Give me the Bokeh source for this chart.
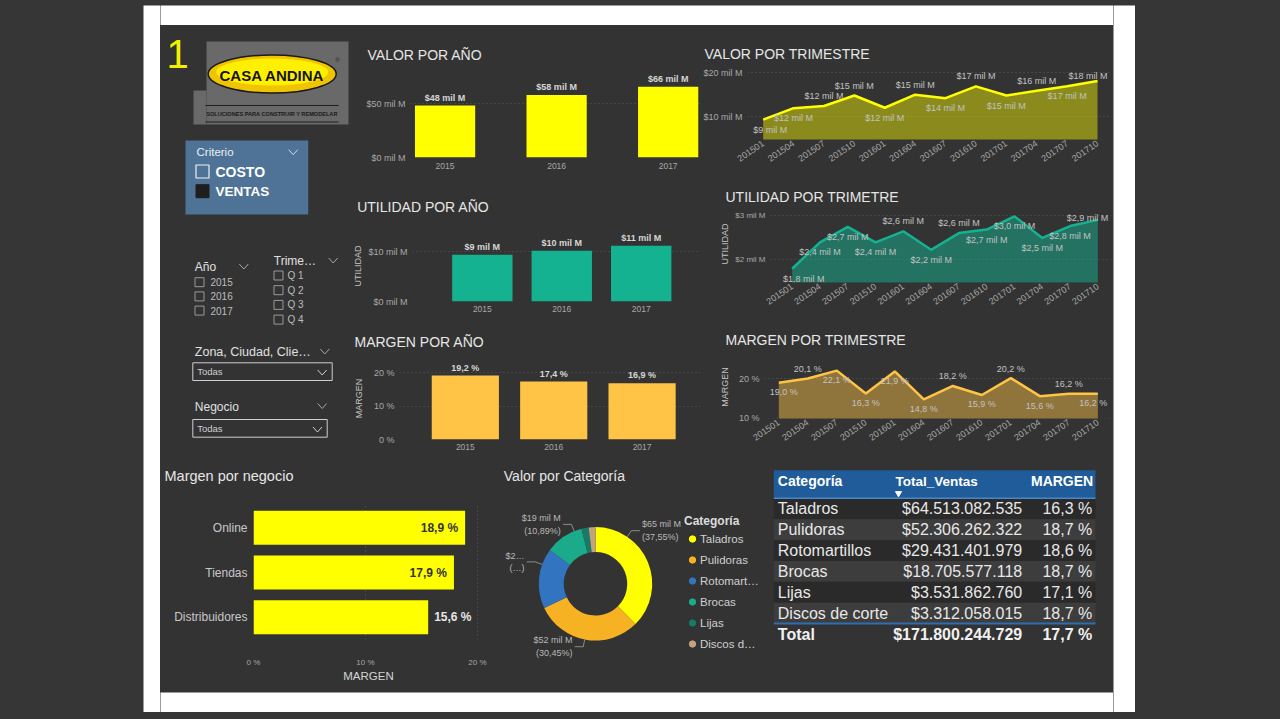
import math
import numpy as np
from bokeh.plotting import figure
from bokeh.models import (Range1d, FactorRange, FixedTicker, PrintfTickFormatter,
                          ColumnDataSource, Legend, LegendItem)
from bokeh.layouts import row, column
from bokeh.core.properties import value
from bokeh.embed import file_html
from bokeh.resources import INLINE

# ---------------- data ----------------
years = ["2015", "2016", "2017"]
valor_anio = [48.2, 57.9, 65.7]          # $ mil M
utilidad_anio = [9.4, 10.2, 11.2]        # $ mil M
margen_anio = [19.2, 17.4, 16.9]         # %

quarters = ["201501", "201504", "201507", "201510", "201601", "201604",
            "201607", "201610", "201701", "201704", "201707", "201710"]
valor_tri = [9.3, 11.9, 12.4, 14.8, 12.0, 15.0, 14.2, 16.9, 14.8, 15.9, 16.9, 18.1]
utilidad_tri = [1.79, 2.39, 2.74, 2.39, 2.64, 2.22, 2.60, 2.68, 2.98, 2.49, 2.76, 2.90]
margen_tri = [19.0, 20.1, 22.1, 16.3, 21.9, 14.8, 18.2, 15.9, 20.2, 15.6, 16.2, 16.2]

negocios = ["Online", "Tiendas", "Distribuidores"]
margen_negocio = [18.9, 17.9, 15.6]

categorias = ["Taladros", "Pulidoras", "Rotomartillos", "Brocas", "Lijas", "Discos de corte"]
categorias_leyenda = ["Taladros", "Pulidoras", "Rotomart…", "Brocas", "Lijas", "Discos d…"]
total_ventas = [64513082535, 52306262322, 29431401979, 18705577118, 3531862760, 3312058015]
margen_cat = [16.3, 18.7, 18.6, 18.7, 17.1, 18.7]
margen_total = 17.7

trimestres_q = ["Q 1", "Q 2", "Q 3", "Q 4"]

# ---------------- style ----------------
PANEL = "#333333"
OUTER = "#363636"
WHITE = "#ffffff"
FONT = "Liberation Sans"
TITLE_C = "#e6e6e6"
TICK_C = "#a8a8a8"
DLABEL_C = "#d6d6d6"
GRID_C = "#5a5a5a"
YELLOW = "#ffff00"
TEAL = "#14b291"
GOLD = "#ffc445"
CAT_COLORS = ["#ffff00", "#f6b223", "#3274c0", "#1bab8a", "#167a66", "#c4a27e"]


def mkfig(**kw):
    p = figure(toolbar_location=None, output_backend="svg", **kw)
    try:
        p.frame_align = False
    except Exception:
        pass
    return p


def block(w, h, color):
    p = mkfig(width=w, height=h, x_axis_location=None, y_axis_location=None, min_border=0,
              background_fill_color=color, border_fill_color=color, outline_line_color=None)
    p.grid.visible = False
    return p


def deco(w, h, xr, yr, color=PANEL):
    p = mkfig(width=w, height=h, x_range=Range1d(*xr), y_range=Range1d(*yr),
              x_axis_location=None, y_axis_location=None, min_border=0,
              background_fill_color=color, border_fill_color=color, outline_line_color=None)
    p.grid.visible = False
    return p


def txt(p, x, y, s, size, color, align="left", baseline="middle", style="normal", font=FONT):
    p.text(x=[x], y=[y], text=[s], text_font=value(font), text_font_size=size,
           text_color=color, text_align=align, text_baseline=baseline, text_font_style=style)


def strip(w, h, x0, y0, s, tx, ty, size="14px"):
    p = deco(w, h, (x0, x0 + w), (y0 + h, y0))
    txt(p, tx, ty, s, size, TITLE_C)
    return p


def chevron(p, cx, cy, color, w=4.5, h=2.5):
    p.line(x=[cx - w, cx, cx + w], y=[cy - h, cy + h, cy - h], line_color=color, line_width=1)


def chart(w, h, xr, yr, mbl, mbr, mbt, mbb):
    p = mkfig(width=w, height=h, x_range=xr, y_range=yr,
              min_border_left=mbl, min_border_right=mbr,
              min_border_top=mbt, min_border_bottom=mbb,
              background_fill_color=PANEL, border_fill_color=PANEL, outline_line_color=None)
    for ax in (p.xaxis[0], p.yaxis[0]):
        ax.axis_line_color = None
        ax.major_tick_line_color = None
        ax.minor_tick_line_color = None
        ax.major_tick_out = 0
        ax.major_tick_in = 0
        ax.minor_tick_out = 0
        ax.minor_tick_in = 0
        ax.major_label_text_font = FONT
        ax.major_label_text_color = TICK_C
        ax.major_label_text_font_size = "9px"
        ax.axis_label_text_font = FONT
        ax.axis_label_text_font_style = "normal"
        ax.axis_label_text_color = "#c4c4c4"
        ax.axis_label_text_font_size = "9px"
    p.xgrid.visible = False
    p.ygrid.grid_line_color = GRID_C
    p.ygrid.grid_line_dash = "1 3"
    return p


def fmt_pct(v):
    return f"{v:.1f} %".replace(".", ",")


# ---------------- year bar charts ----------------
def year_chart(h, vals, color, xr, yr, mbl, mbt, mbb, yticks, yfmt, labels, bw,
               xstand, ylabel=None, ylab_stand=2):
    p = chart(350, h, xr, yr, mbl, 0, mbt, mbb)
    xs = list(range(len(years)))
    p.vbar(x=xs, top=vals, width=bw, fill_color=color, line_color=None)
    p.text(x=xs, y=vals, text=labels, text_align="center", text_baseline="bottom", y_offset=-3,
           text_font=value(FONT), text_font_style="bold", text_font_size="9px", text_color=DLABEL_C)
    p.xaxis.ticker = FixedTicker(ticks=xs)
    p.xaxis.major_label_overrides = {i: s for i, s in enumerate(years)}
    p.xaxis.major_label_text_font_size = "8.5px"
    p.xaxis.major_label_standoff = xstand
    yt = FixedTicker(ticks=yticks)
    p.yaxis.ticker = yt
    p.ygrid.ticker = yt
    p.yaxis.formatter = PrintfTickFormatter(format=yfmt)
    p.yaxis.major_label_standoff = 5
    if ylabel:
        p.yaxis.axis_label = ylabel
        p.yaxis.axis_label_standoff = ylab_stand
    return p


t1 = strip(350, 37, 350, 25, "VALOR POR AÑO", 367, 54)
p1 = year_chart(128, valor_anio, YELLOW, Range1d(-0.31, 2.29), Range1d(0, 80.7), 60, 8, 33,
                [0, 50], "$%d mil M", [f"${round(v)} mil M" for v in valor_anio], 0.54, 5)
t2 = strip(350, 26, 350, 190, "UTILIDAD POR AÑO", 356.7, 206)
p2 = year_chart(109, utilidad_anio, TEAL, Range1d(-0.879, 2.746), Range1d(0, 14.29), 60, 14, 24,
                [0, 10], "$%d mil M", [f"${round(v)} mil M" for v in utilidad_anio], 0.76, 4,
                "UTILIDAD", 2)
t3 = strip(350, 26, 350, 325, "MARGEN POR AÑO", 354, 341.7)
p3 = year_chart(109, margen_anio, GOLD, Range1d(-0.745, 2.661), Range1d(0, 24.62), 46, 6, 21,
                [0, 10, 20], "%d %%", [fmt_pct(v) for v in margen_anio], 0.76, 4, "MARGEN", 7)


# ---------------- quarter area charts ----------------
def tri_chart(h, vals, color, alpha, xr, yr, mbl, mbt, mbb, yticks, yfmt, labels,
              pos, off, xshift, ylabel=None, ylab_stand=6, tick_size="9px"):
    p = chart(413, h, xr, yr, mbl, 2, mbt, mbb)
    xs = list(range(len(quarters)))
    p.varea(x=xs, y1=0, y2=vals, fill_color=color, fill_alpha=alpha)
    p.line(x=xs, y=vals, line_color=color, line_width=2.5)
    src = ColumnDataSource(dict(x=xs, y=vals, t=labels,
                                xo=xshift, yo=[-pp * off for pp in pos]))
    p.text(x="x", y="y", text="t", x_offset="xo", y_offset="yo", source=src,
           text_align="center", text_baseline="middle", text_font=value(FONT),
           text_font_size="9px", text_color="#c2c2c2")
    p.xaxis.ticker = FixedTicker(ticks=xs)
    p.xaxis.major_label_overrides = {i: s for i, s in enumerate(quarters)}
    p.xaxis.major_label_orientation = 0.6
    p.xaxis.major_label_standoff = 3
    yt = FixedTicker(ticks=yticks)
    p.yaxis.ticker = yt
    p.ygrid.ticker = yt
    p.yaxis.formatter = PrintfTickFormatter(format=yfmt)
    p.yaxis.major_label_standoff = 5
    p.yaxis.major_label_text_font_size = tick_size
    if ylabel:
        p.yaxis.axis_label = ylabel
        p.yaxis.axis_label_standoff = ylab_stand
    return p


def shift(first, last):
    s = [0.0] * len(quarters)
    s[0] = first
    s[-1] = last
    return s


t4 = strip(413, 36, 700, 25, "VALOR POR TRIMESTRE", 704, 53.3)
p4 = tri_chart(124, valor_tri, YELLOW, 0.43, Range1d(-0.516, 11.46), Range1d(4.74, 21.67),
               47, 4, 46, [10, 20], "$%d mil M", [f"${round(v)} mil M" for v in valor_tri],
               [-1, -1, 1, 1, -1, 1, -1, 1, -1, 1, -1, 0.5], 10, shift(7, -9.5))
t5 = strip(413, 20, 700, 185, "UTILIDAD POR TRIMETRE", 725, 196.7)
p5 = tri_chart(120, utilidad_tri, TEAL, 0.5, Range1d(-0.78, 11.49), Range1d(1.477, 3.227),
               70, 0, 43, [2, 3], "$%d mil M",
               [f"${v:.1f} mil M".replace(".", ",") for v in utilidad_tri],
               [-1, -1, -1, -1, 1, -1, 1, -1, -1, -1, -1, 0.15], 10, shift(11.5, -10.5),
               "UTILIDAD", 2, "8px")
t6 = strip(413, 24, 700, 325, "MARGEN POR TRIMESTRE", 725, 339)
p6 = tri_chart(111, margen_tri, GOLD, 0.45, Range1d(-0.493, 11.47), Range1d(9.92, 25.95),
               64, 6, 42, [10, 20], "%d %%", [fmt_pct(v) for v in margen_tri],
               [-1, 1, -1, -1, -1, -1, 1, -1, 1, -1, 1, -1], 9.5, shift(5, -4.6),
               "MARGEN", 6)

# ---------------- margen por negocio ----------------
tN = strip(335, 30, 160, 460, "Margen por negocio", 164, 475.7, "14.5px")
pN = chart(335, 202, Range1d(0, 20.54), FactorRange(factors=negocios[::-1]), 93, 12, 15, 53)
pN.hbar(y=negocios, right=margen_negocio, left=0, height=0.76, fill_color=YELLOW, line_color=None)
inside = [v >= 17 for v in margen_negocio]
nsrc = ColumnDataSource(dict(
    x=margen_negocio, y=negocios, t=[fmt_pct(v) for v in margen_negocio],
    al=["right" if i else "left" for i in inside],
    xo=[-7 if i else 6 for i in inside],
    c=["#333333" if i else "#e6e6e6" for i in inside]))
pN.text(x="x", y="y", text="t", text_align="al", x_offset="xo", text_color="c", source=nsrc,
        text_baseline="middle", text_font=value(FONT), text_font_style="bold", text_font_size="12px")
xt = FixedTicker(ticks=[0, 10, 20])
pN.xaxis.ticker = xt
pN.xaxis.formatter = PrintfTickFormatter(format="%d %%")
pN.xaxis.major_label_text_font_size = "8px"
pN.xaxis.major_label_standoff = 18
pN.xaxis.axis_label = "MARGEN"
pN.xaxis.axis_label_text_font_size = "11.5px"
pN.xaxis.axis_label_text_color = "#d4d4d4"
pN.xaxis.axis_label_standoff = 0
pN.yaxis.major_label_text_font_size = "12px"
pN.yaxis.major_label_text_color = "#c8c8c8"
pN.yaxis.major_label_standoff = 6
pN.ygrid.visible = False
pN.xgrid.visible = True
pN.xgrid.ticker = xt
pN.xgrid.grid_line_color = GRID_C
pN.xgrid.grid_line_dash = "1 3"

# ---------------- donut ----------------
R_PX = 56.7
tD = strip(275, 30, 495, 460, "Valor por Categoría", 503.3, 475.7, "14px")
pD = deco(275, 202, (-100 / R_PX, 175 / R_PX), (-(692 - 583.3) / R_PX, (583.3 - 490) / R_PX))
vals = np.array(total_ventas, dtype=float)
frac = vals / vals.sum()
cum = np.cumsum(frac)
start = np.pi / 2 - 2 * np.pi * (cum - frac)
end = np.pi / 2 - 2 * np.pi * cum
pD.annular_wedge(x=0, y=0, inner_radius=0.56, outer_radius=1.0, start_angle=start, end_angle=end,
                 direction="clock", fill_color=CAT_COLORS, line_color=None)

lab_angles = [56, -101, 160, 112]
lab_trunc = [False, False, True, False]
lx, ly, lt, la, lxs, lys = [], [], [], [], [], []
for i, a in enumerate(lab_angles):
    t = math.radians(a)
    c, s = math.cos(t), math.sin(t)
    x1, y1 = 1.13 * c, 1.13 * s
    sg = 1 if c >= 0 else -1
    x2 = x1 + sg * 0.15
    lxs.append([1.0 * c, x1, x2])
    lys.append([1.0 * s, y1, y1])
    l1 = f"${round(total_ventas[i] / 1e9)} mil M"
    l2 = f"({frac[i] * 100:.2f}%)".replace(".", ",")
    if lab_trunc[i]:
        l1 = l1[:2] + "…"
        l2 = "(…)"
    lt.append(l1 + "\n" + l2)
    lx.append(x2 + sg * 0.04)
    ly.append(y1)
    la.append("left" if sg > 0 else "right")
pD.multi_line(xs=lxs, ys=lys, line_color="#8c8c8c", line_width=1)
dsrc = ColumnDataSource(dict(x=lx, y=ly, t=lt, al=la))
pD.text(x="x", y="y", text="t", text_align="al", source=dsrc, text_baseline="middle",
        text_font=value(FONT), text_font_size="9px", text_color="#b8b8b8", text_line_height=1.25)

leg_src = ColumnDataSource(dict(x=np.full(len(categorias), np.nan), y=np.full(len(categorias), np.nan),
                                color=CAT_COLORS))
r_leg = pD.scatter(x="x", y="y", color="color", size=7, source=leg_src)
legend = Legend(items=[LegendItem(label=categorias_leyenda[i], renderers=[r_leg], index=i)
                       for i in range(len(categorias))],
                location=(189, 40), title="Categoría")
legend.title_text_font = FONT
legend.title_text_font_style = "bold"
legend.title_text_font_size = "12px"
legend.title_text_color = "#dcdcdc"
legend.title_standoff = 2
legend.label_text_font = FONT
legend.label_text_font_size = "11.5px"
legend.label_text_color = "#d0d0d0"
legend.glyph_width = 16
legend.glyph_height = 17
legend.label_height = 17
legend.spacing = 4
legend.label_standoff = 0
legend.padding = 0
legend.margin = 0
legend.background_fill_alpha = 0
legend.border_line_alpha = 0
pD.add_layout(legend)

# ---------------- table ----------------
pT = deco(343, 232, (770, 1113), (8.80, -2.314))
n = len(categorias)
rows = list(range(n))
pT.quad(left=773.3, right=1095, top=[i - 0.5 for i in rows], bottom=[i + 0.5 for i in rows],
        fill_color=["#2a2a2a" if i % 2 == 0 else "#3d3d3d" for i in rows], line_color=None)
pT.quad(left=[773.3], right=[1095], top=[-1.85], bottom=[-0.5], fill_color="#1f5c99", line_color=None)
pT.line(x=[773.3, 1095], y=[-0.5, -0.5], line_color="#4a86c8", line_width=1.5)
pT.line(x=[773.3, 1095], y=[5.5, 5.5], line_color="#2e6db0", line_width=2)
txt(pT, 777.3, -1.32, "Categoría", "14px", "#ffffff", style="bold")
txt(pT, 895, -1.32, "Total_Ventas", "13.5px", "#ffffff", style="bold")
txt(pT, 1092.7, -1.32, "MARGEN", "14px", "#ffffff", align="right", style="bold")
pT.scatter(x=[898], y=[-0.74], marker="inverted_triangle", size=6, color="#ffffff")
ventas_txt = ["$" + f"{v:,}".replace(",", ".") for v in total_ventas]
tsrc = ColumnDataSource(dict(y=rows, c=categorias, v=ventas_txt, m=[fmt_pct(v) for v in margen_cat]))
common = dict(source=tsrc, text_baseline="middle", text_font=value(FONT), text_font_size="16px",
              text_color="#e8e8e8")
pT.text(x=777.3, y="y", text="c", text_align="left", **common)
pT.text(x=1021.7, y="y", text="v", text_align="right", **common)
pT.text(x=1091.7, y="y", text="m", text_align="right", **common)
total_txt = "$" + f"{sum(total_ventas):,}".replace(",", ".")
txt(pT, 777.3, 6.0, "Total", "16px", "#f0f0f0", style="bold")
txt(pT, 1021.7, 6.0, total_txt, "16px", "#f0f0f0", align="right", style="bold")
txt(pT, 1091.7, 6.0, fmt_pct(margen_total), "16px", "#f0f0f0", align="right", style="bold")

# ---------------- left column: logo + slicers ----------------
pL = deco(190, 435, (160, 350), (460, 25))
txt(pL, 166, 53, "1", "40px", "#f0f000")
pL.quad(left=[206, 193], right=[348, 206], top=[41, 90], bottom=[124, 124],
        fill_color="#696969", line_color=None)
pL.ellipse(x=[271.7], y=[73.5], width=[128], height=[38], fill_color="#f0c400",
           line_color="#1a1a1a", line_width=1.5)
pL.ellipse(x=[271.7], y=[71.5], width=[112], height=[27], fill_color="#fff000", line_color=None)
txt(pL, 271.5, 74.5, "CASA ANDINA", "15px", "#141414", align="center", style="bold")
txt(pL, 337, 59, "®", "6px", "#222222", align="center")
pL.line(x=[205, 338], y=[105, 105], line_color="#1e1e1e", line_width=1)
pL.line(x=[205, 338], y=[121.5, 121.5], line_color="#1e1e1e", line_width=1)
txt(pL, 271.5, 113.5, "SOLUCIONES PARA CONSTRUIR Y REMODELAR", "5.6px", "#1a1a1a",
    align="center", style="bold")

# Criterio slicer
pL.quad(left=[185], right=[307.7], top=[140], bottom=[214], fill_color="#4f7396", line_color=None)
txt(pL, 196, 151.7, "Criterio", "11.5px", "#e8eef4")
chevron(pL, 292.7, 151.7, "#d4dee8")
pL.quad(left=[195.5], right=[208.5], top=[164.5], bottom=[177.5], fill_alpha=0,
        line_color="#f0f0f0", line_width=1.2)
txt(pL, 215, 171, "COSTO", "14px", "#ffffff", style="bold")
pL.quad(left=[195.5], right=[208.5], top=[184.2], bottom=[197.2], fill_color="#1e1e1e",
        line_color="#1e1e1e")
txt(pL, 215, 190.7, "VENTAS", "13.5px", "#ffffff", style="bold")

# Año slicer
txt(pL, 194.3, 266.7, "Año", "12px", "#e0e0e0")
chevron(pL, 243.3, 266, "#a8a8a8")
for i, yv in enumerate(years):
    yc = 281.7 + i * 14.2
    pL.quad(left=[194.5], right=[203.5], top=[yc - 4.5], bottom=[yc + 4.5], fill_alpha=0,
            line_color="#9a9a9a", line_width=1)
    txt(pL, 210, yc, yv, "10px", "#bdbdbd")

# Trimestre slicer
txt(pL, 273.3, 260.7, "Trime…", "12px", "#e0e0e0")
chevron(pL, 332.7, 260, "#a8a8a8")
for i, q in enumerate(trimestres_q):
    yc = 275 + i * 14.7
    pL.quad(left=[273.5], right=[282.5], top=[yc - 4.5], bottom=[yc + 4.5], fill_alpha=0,
            line_color="#9a9a9a", line_width=1)
    txt(pL, 287, yc, q, "10px", "#bdbdbd")

# Zona dropdown
txt(pL, 194.3, 351, "Zona, Ciudad, Clie…", "12.5px", "#e0e0e0")
chevron(pL, 324.3, 351, "#a8a8a8")
pL.quad(left=[192.3], right=[331.7], top=[362.3], bottom=[380], fill_alpha=0,
        line_color="#cfcfcf", line_width=1)
txt(pL, 196.7, 371.2, "Todas", "9.5px", "#cfcfcf")
chevron(pL, 321.7, 372, "#cfcfcf")

# Negocio dropdown
txt(pL, 194.3, 406.7, "Negocio", "12px", "#e0e0e0")
chevron(pL, 321.7, 405.5, "#a8a8a8")
pL.quad(left=[192.3], right=[326.7], top=[419], bottom=[436.7], fill_alpha=0,
        line_color="#cfcfcf", line_width=1)
txt(pL, 196.7, 428, "Todas", "9.5px", "#cfcfcf")
chevron(pL, 317, 429, "#cfcfcf")

# ---------------- layout ----------------
colB = column(t1, p1, t2, p2, t3, p3)
colC = column(t4, p4, t5, p5, t6, p6)
top_row = row(pL, colB, colC)
bottom_row = row(column(tN, pN), column(tD, pD), pT)
panel = column(top_row, bottom_row)


def vstrip(w):
    return column(block(w, 5, OUTER), block(w, 707, WHITE), block(w, 5, OUTER))


mid = column(block(953, 5, OUTER), block(953, 20, WHITE), panel, block(953, 20, WHITE),
             block(953, 5, OUTER))
layout = row(block(143, 717, OUTER), vstrip(17), mid, vstrip(22), block(143, 717, OUTER))

try:
    from bokeh.models import GlobalInlineStyleSheet
    layout.stylesheets = [GlobalInlineStyleSheet(
        css="html, body { background-color: #363636; margin: 0; padding: 0; }")]
except Exception:
    pass

open("out.html", "w").write(file_html(layout, INLINE))
